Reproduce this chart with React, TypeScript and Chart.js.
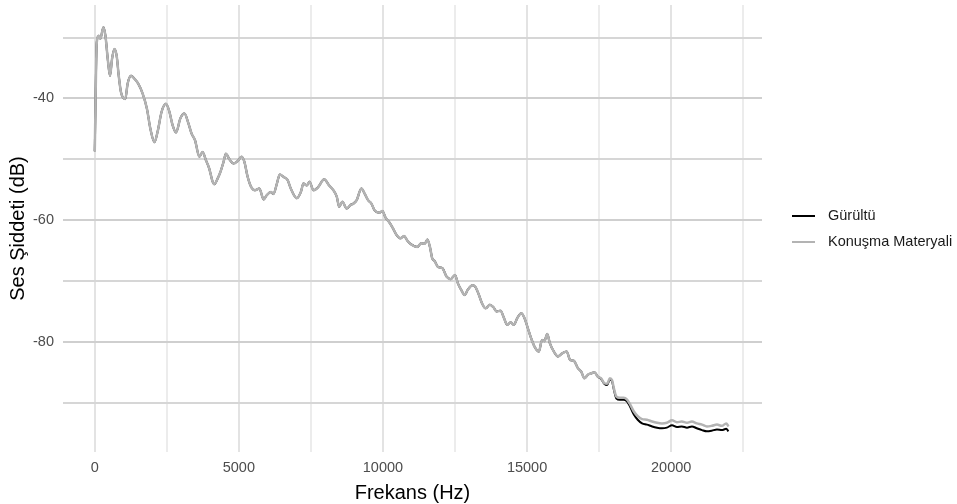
import { useEffect, useRef } from "react";
import { Chart, registerables } from "chart.js";

Chart.register(...registerables);

// frequency points (Hz)
const freqHz = [
  0, 70, 140, 195, 300, 370, 450, 530, 600, 680, 760, 830, 910, 1060, 1140,
  1260, 1380, 1510, 1660, 1810, 1930, 2070, 2180, 2320, 2470, 2590, 2700, 2820,
  2970, 3110, 3250, 3360, 3480, 3630, 3740, 3860, 3970, 4090, 4150, 4260, 4360,
  4470, 4550, 4670, 4820, 4960, 5090, 5190, 5300, 5420, 5560, 5710, 5860, 5970,
  6110, 6200, 6320, 6420, 6550, 6690, 6800, 7010, 7150, 7240, 7360, 7450, 7590,
  7750, 7960, 8130, 8280, 8400, 8480, 8590, 8740, 8880, 8970, 9090, 9250, 9370,
  9480, 9600, 9710, 9870, 9980, 10090, 10210, 10330, 10480, 10610, 10730,
  10850, 10980, 11190, 11330, 11450, 11540, 11630, 11710, 11790, 11910, 12060,
  12210, 12350, 12500, 12600, 12720, 12830, 12950, 13100, 13210, 13330, 13440,
  13560, 13710, 13830, 13940, 14080, 14200, 14310, 14430, 14540, 14660, 14800,
  14910, 15030, 15140, 15260, 15410, 15520, 15600, 15700, 15790, 15930, 16070,
  16220, 16370, 16500, 16620, 16760, 16880, 16990, 17110, 17220, 17340, 17450,
  17570, 17680, 17780, 17870, 17950, 18010, 18100, 18220, 18350, 18470, 18580,
  18700, 18840, 18990, 19160, 19340, 19510, 19680, 19850, 20030, 20200, 20370,
  20550, 20720, 20890, 21070, 21240, 21410, 21590, 21760, 21910, 21990,
];

// both series coincide up to 17450 Hz
const sharedDb = [
  -48.7, -30.8, -29.7, -30.2, -28.3, -29.7, -33.5, -36.3, -33.5, -31.9, -33.0,
  -36.2, -39.0, -40.1, -37.6, -36.3, -36.8, -37.6, -39.2, -41.7, -45.0, -47.2,
  -45.5, -42.2, -40.9, -42.2, -44.4, -45.6, -43.3, -42.5, -44.1, -45.8, -46.9,
  -49.6, -48.8, -50.2, -51.5, -53.7, -54.1, -53.2, -52.1, -50.4, -49.1, -50.0,
  -50.7, -50.3, -49.6, -50.4, -52.8, -54.5, -55.1, -54.8, -56.6, -55.9, -55.4,
  -55.7, -54.0, -52.5, -52.9, -53.4, -54.8, -56.4, -55.4, -54.0, -54.3, -53.7,
  -55.1, -54.6, -53.3, -54.3, -55.1, -56.2, -57.8, -57.0, -58.1, -57.5, -57.3,
  -56.7, -54.8, -55.7, -56.7, -57.3, -58.4, -58.8, -58.5, -59.6, -60.3, -61.2,
  -62.5, -63.0, -62.6, -63.4, -64.0, -64.4, -63.8, -63.9, -63.2, -64.4, -66.3,
  -66.7, -67.7, -67.9, -69.3, -69.7, -69.0, -70.4, -71.5, -72.3, -71.4, -70.7,
  -71.0, -72.3, -73.7, -74.5, -73.9, -74.3, -75.0, -74.9, -76.1, -77.2, -76.8,
  -77.2, -76.1, -75.3, -76.1, -77.8, -79.4, -80.8, -81.6, -79.7, -79.9, -78.7,
  -80.2, -81.6, -82.4, -81.9, -81.6, -83.0, -83.1, -84.3, -84.9, -86.0, -85.4,
  -85.2, -85.0, -85.7,
];

// Konuşma Materyali, from 17570 Hz on
const speechTailDb = [
  -86.0, -86.8, -86.9, -86.0, -86.3, -87.6, -89.0, -89.2, -89.2, -89.5, -90.3,
  -91.4, -92.2, -92.7, -92.8, -93.1, -93.3, -93.4, -93.3, -92.9, -93.2, -93.1,
  -93.3, -93.1, -93.4, -93.6, -93.9, -93.8, -93.6, -93.8, -93.4, -93.9,
];

// Gürültü, from 17570 Hz on
const noiseTailDb = [
  -86.1, -86.9, -87.1, -86.2, -86.5, -87.8, -89.3, -89.5, -89.5, -89.8, -90.7,
  -91.9, -92.8, -93.4, -93.6, -93.9, -94.1, -94.2, -94.1, -93.7, -94.0, -93.9,
  -94.1, -93.9, -94.2, -94.5, -94.7, -94.6, -94.4, -94.5, -94.3, -94.7,
];

const speechDb = [...sharedDb, ...speechTailDb];
const noiseDb = [...sharedDb, ...noiseTailDb];

// grid positions; only the majors get a label
const xGrid = [0, 2500, 5000, 7500, 10000, 12500, 15000, 17500, 20000, 22500];
const xLabels = [0, 5000, 10000, 15000, 20000];
const yGrid = [-90, -80, -70, -60, -50, -40, -30];
const yLabels = [-80, -60, -40];

const seriesNames = ["Gürültü", "Konuşma Materyali"];
const seriesColors = ["#000000", "#b3b3b3"];

const FONT = "'Liberation Sans', Arial, sans-serif";

const legendPlugin = {
  id: "sideLegend",
  afterDraw(chart: Chart) {
    const ctx = chart.ctx;
    ctx.save();
    ctx.font = `14.5px ${FONT}`;
    ctx.textBaseline = "middle";
    ctx.textAlign = "left";
    seriesNames.forEach((name, i) => {
      const y = 216 + i * 26;
      ctx.strokeStyle = seriesColors[i];
      ctx.lineWidth = 2;
      ctx.beginPath();
      ctx.moveTo(792, y);
      ctx.lineTo(815, y);
      ctx.stroke();
      ctx.fillStyle = "#1a1a1a";
      ctx.fillText(name, 828, y);
    });
    ctx.restore();
  },
};

function SpectrumChart() {
  const canvasRef = useRef<HTMLCanvasElement | null>(null);

  useEffect(() => {
    if (!canvasRef.current) return;
    const toPoints = (vals: number[]) =>
      freqHz.map((f, i) => ({ x: f, y: vals[i] }));

    const chart = new Chart(canvasRef.current, {
      type: "line",
      data: {
        datasets: [
          {
            label: seriesNames[1],
            data: toPoints(speechDb),
            borderColor: seriesColors[1],
            borderWidth: 2.5,
            pointRadius: 0,
            cubicInterpolationMode: "monotone",
          },
          {
            label: seriesNames[0],
            data: toPoints(noiseDb),
            borderColor: seriesColors[0],
            borderWidth: 2,
            pointRadius: 0,
            cubicInterpolationMode: "monotone",
          },
        ],
      },
      options: {
        animation: false,
        responsive: true,
        maintainAspectRatio: false,
        layout: { padding: { top: 5, right: 195, left: 0, bottom: 0 } },
        plugins: { legend: { display: false }, tooltip: { enabled: false } },
        scales: {
          x: {
            type: "linear",
            min: -1102,
            max: 23152,
            afterBuildTicks: (s: any) => {
              s.ticks = xGrid.map((v) => ({ value: v }));
            },
            afterFit: (s: any) => {
              s.height = 52;
              s.paddingLeft = 0;
              s.paddingRight = 0;
            },
            border: { display: false },
            grid: {
              drawTicks: false,
              color: (c: any) =>
                c.tick && xLabels.includes(c.tick.value) ? "#e3e3e3" : "#ececec",
              lineWidth: 2,
            },
            ticks: {
              padding: 7,
              color: "#4d4d4d",
              font: { family: FONT, size: 14.5 },
              maxRotation: 0,
              autoSkip: false,
              callback: (v: any) =>
                xLabels.includes(Number(v)) ? String(v) : "",
            },
            title: {
              display: true,
              text: "Frekans (Hz)",
              color: "#000000",
              font: { family: FONT, size: 20, lineHeight: 1.1 },
              padding: { top: 0, bottom: 0 },
            },
          },
          y: {
            type: "linear",
            min: -98.1,
            max: -24.66,
            afterBuildTicks: (s: any) => {
              s.ticks = yGrid.map((v) => ({ value: v }));
            },
            afterFit: (s: any) => {
              s.width = 63;
              s.paddingTop = 0;
              s.paddingBottom = 0;
            },
            border: { display: false },
            grid: {
              drawTicks: false,
              color: (c: any) =>
                c.tick && yLabels.includes(c.tick.value) ? "#cfcfcf" : "#d6d6d6",
              lineWidth: 2,
            },
            ticks: {
              padding: 9,
              color: "#4d4d4d",
              font: { family: FONT, size: 14.5 },
              autoSkip: false,
              callback: (v: any) =>
                yLabels.includes(Number(v)) ? String(v) : "",
            },
            title: {
              display: true,
              text: "Ses Şiddeti (dB)",
              color: "#000000",
              font: { family: FONT, size: 20, lineHeight: 1.2 },
              padding: { top: 6, bottom: 0 },
            },
          },
        },
      },
      plugins: [legendPlugin],
    });

    return () => {
      chart.destroy();
    };
  }, []);

  return <canvas ref={canvasRef}></canvas>;
}

export default function App() {
  return (
    <div
      style={{
        position: "absolute",
        left: 0,
        top: 0,
        width: 957,
        height: 504,
        background: "#ffffff",
      }}
    >
      <SpectrumChart />
    </div>
  );
}
